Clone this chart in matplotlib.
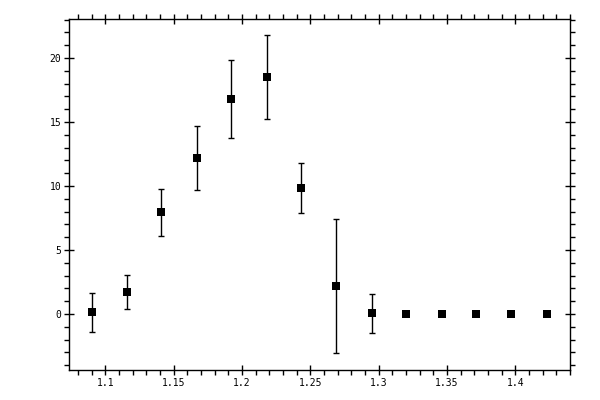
import numpy as np
import matplotlib
matplotlib.use("Agg")
import matplotlib.pyplot as plt
from matplotlib.ticker import MultipleLocator

# measured points (x, y, symmetric error); last five have no error bar
x = [1.090, 1.116, 1.141, 1.167, 1.192, 1.218, 1.243, 1.269, 1.295,
     1.320, 1.346, 1.371, 1.397, 1.423]
y = [0.13, 1.70, 7.96, 12.18, 16.80, 18.52, 9.84, 2.17, 0.05,
     0.0, 0.0, 0.0, 0.0, 0.0]
yerr = [1.52, 1.33, 1.84, 2.49, 3.02, 3.28, 1.92, 5.25, 1.52,
        0.0, 0.0, 0.0, 0.0, 0.0]

x_ticks = [1.1, 1.15, 1.2, 1.25, 1.3, 1.35, 1.4]
x_labels = ["1.1", "1.15", "1.2", "1.25", "1.3", "1.35", "1.4"]
y_ticks = [0, 5, 10, 15, 20]

fig = plt.figure(figsize=(6, 4), dpi=100)
ax = fig.add_axes([0.115, 0.075, 0.835, 0.8775])

has_err = np.array(yerr) > 0
xa, ya, ea = np.array(x), np.array(y), np.array(yerr)
ax.errorbar(xa[has_err], ya[has_err], yerr=ea[has_err], fmt='none',
            ecolor='black', elinewidth=1.0, capsize=2.2, capthick=1.0)
ax.plot(xa, ya, 's', color='black', markersize=6.3, markeredgewidth=0)

ax.set_xlim(1.0733, 1.44)
ax.set_ylim(-4.38, 23.05)

ax.set_xticks(x_ticks)
ax.set_xticklabels(x_labels)
ax.set_yticks(y_ticks)
ax.xaxis.set_minor_locator(MultipleLocator(0.01))
ax.yaxis.set_minor_locator(MultipleLocator(1))

for side in ax.spines.values():
    side.set_linewidth(1.0)

ax.tick_params(which='major', direction='inout', length=7, width=1.0,
               top=True, right=True, labelsize=7, pad=2)
ax.tick_params(which='minor', direction='out', length=3.5, width=1.0,
               top=True, right=True)
for lbl in ax.get_xticklabels() + ax.get_yticklabels():
    lbl.set_family('DejaVu Sans Mono')

fig.savefig("out.png", dpi=100)
